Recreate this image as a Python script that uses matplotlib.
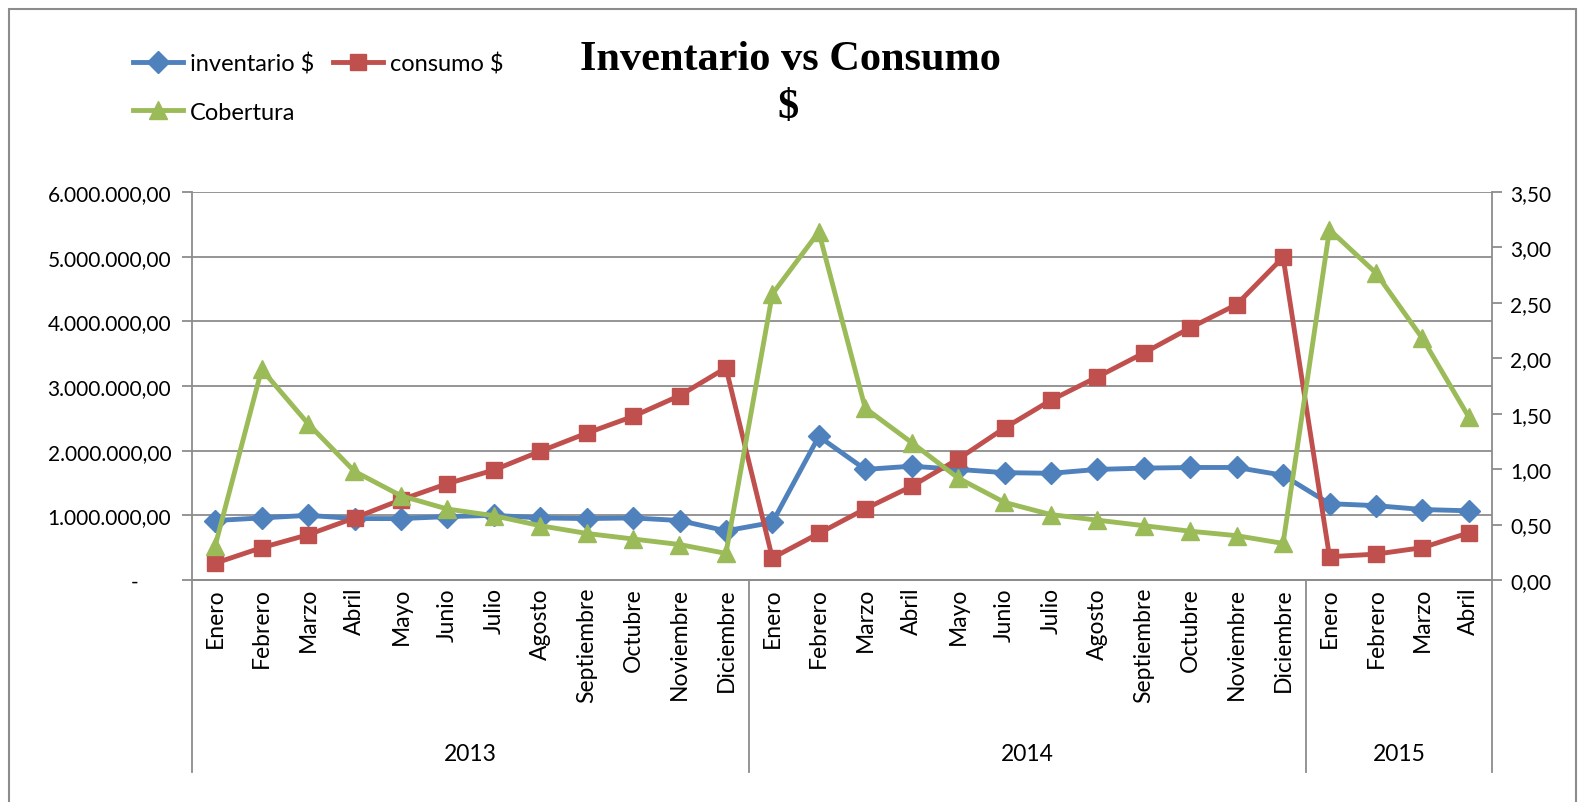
import numpy as np
import matplotlib
matplotlib.use('Agg')
import matplotlib.pyplot as plt
from matplotlib.ticker import FuncFormatter
from matplotlib.patches import Rectangle

meses = ["Enero", "Febrero", "Marzo", "Abril", "Mayo", "Junio", "Julio",
         "Agosto", "Septiembre", "Octubre", "Noviembre", "Diciembre"]
etiquetas = meses + meses + meses[:4]
anios = ["2013", "2014", "2015"]
meses_por_anio = [12, 12, 4]

inventario = [0.92, 0.96, 1.00, 0.95, 0.95, 0.98, 1.00, 0.96, 0.95, 0.96, 0.92, 0.76,
              0.89, 2.22, 1.71, 1.76, 1.71, 1.66, 1.65, 1.71, 1.73, 1.74, 1.74, 1.62,
              1.18, 1.15, 1.09, 1.07]
consumo = [0.26, 0.50, 0.70, 0.96, 1.24, 1.49, 1.70, 1.99, 2.27, 2.53, 2.85, 3.28,
           0.34, 0.72, 1.10, 1.45, 1.87, 2.35, 2.78, 3.14, 3.51, 3.90, 4.26, 4.99,
           0.36, 0.40, 0.50, 0.73]
cobertura = [0.31, 1.90, 1.41, 0.98, 0.76, 0.64, 0.58, 0.49, 0.42, 0.37, 0.32, 0.24,
             2.58, 3.14, 1.55, 1.24, 0.92, 0.70, 0.59, 0.54, 0.49, 0.44, 0.40, 0.33,
             3.16, 2.77, 2.18, 1.47]

inventario = np.array(inventario) * 1e6
consumo = np.array(consumo) * 1e6

azul = "#4F81BD"
rojo = "#C0504D"
verde = "#9BBB59"
gris = "#8C8C8C"

plt.rcParams['font.family'] = ['Lato', 'DejaVu Sans']

W, H = 1578, 803
fig = plt.figure(figsize=(W / 100, H / 100), dpi=100)
fig.patches.append(Rectangle((9 / W, -0.05), (1576 - 9) / W, (H - 10) / H + 0.05,
                             transform=fig.transFigure, fill=False,
                             edgecolor=gris, linewidth=1.5))

ax = fig.add_axes([192 / W, (H - 581) / H, 1300 / W, 388 / H])
x = np.arange(len(etiquetas))

l1, = ax.plot(x, inventario, color=azul, lw=3.5, marker='D', ms=11,
              label="inventario $", zorder=3)
l2, = ax.plot(x, consumo, color=rojo, lw=3.5, marker='s', ms=12,
              label="consumo $", zorder=3)
ax.set_ylim(0, 6e6)
ax.set_xlim(-0.5, len(etiquetas) - 0.5)
ax.set_yticks(np.arange(0, 6.01e6, 1e6))


def fmt_izq(v, pos):
    if v == 0:
        return "-      "
    s = "{:,.2f}".format(v)
    return s.replace(",", "X").replace(".", ",").replace("X", ".")


ax.yaxis.set_major_formatter(FuncFormatter(fmt_izq))
ax.grid(axis='y', color=gris, lw=1.3)
ax.set_axisbelow(True)

ax2 = ax.twinx()
l3, = ax2.plot(x, cobertura, color=verde, lw=3.5, marker='^', ms=13,
               label="Cobertura", zorder=3)
ax2.set_ylim(0, 3.5)
ax2.set_yticks(np.arange(0, 3.51, 0.5))
ax2.yaxis.set_major_formatter(FuncFormatter(lambda v, p: "{:.2f}".format(v).replace(".", ",")))

for a in (ax, ax2):
    a.spines['top'].set_visible(False)
    a.tick_params(axis='y', labelsize=15, color=gris, width=1.3, length=7,
                  direction='out')
    for s in a.spines.values():
        s.set_color(gris)
        s.set_linewidth(1.3)
ax2.spines['left'].set_visible(False)
ax.spines['right'].set_visible(False)
ax.tick_params(axis='y', pad=8)
ax2.tick_params(axis='y', pad=6)

ax.set_xticks(x)
ax.set_xticklabels(etiquetas, rotation=90, fontsize=16.5, va='top')
ax.tick_params(axis='x', length=0, pad=5)

# separadores de años y etiquetas de año
y_bajo = -(773 - 581) / 388
bordes = [-0.5]
for n in meses_por_anio:
    bordes.append(bordes[-1] + n)
trans = ax.get_xaxis_transform()
for b in bordes:
    ax.plot([b, b], [0, y_bajo], color=gris, lw=1.3, transform=trans, clip_on=False)
for i, anio in enumerate(anios):
    ax.text((bordes[i] + bordes[i + 1]) / 2, -(755 - 581) / 388, anio,
            transform=trans, ha='center', va='center', fontsize=16.5)

fig.text(790 / W, 1 - 60 / H, "Inventario vs Consumo", ha='center', va='center',
         fontsize=30.5, fontweight='bold', family='Liberation Serif')
fig.text(788 / W, 1 - 108 / H, "$", ha='center', va='center',
         fontsize=30.5, fontweight='bold', family='Liberation Serif')

fig.legend(handles=[l1, l3, l2], ncol=2, loc='upper left',
           bbox_to_anchor=(124 / W, 1 - 44 / H), frameon=False, fontsize=17,
           handlelength=2.1, handletextpad=0.3, columnspacing=0.8,
           labelspacing=1.15, borderaxespad=0)

fig.savefig("out.png", dpi=100)
